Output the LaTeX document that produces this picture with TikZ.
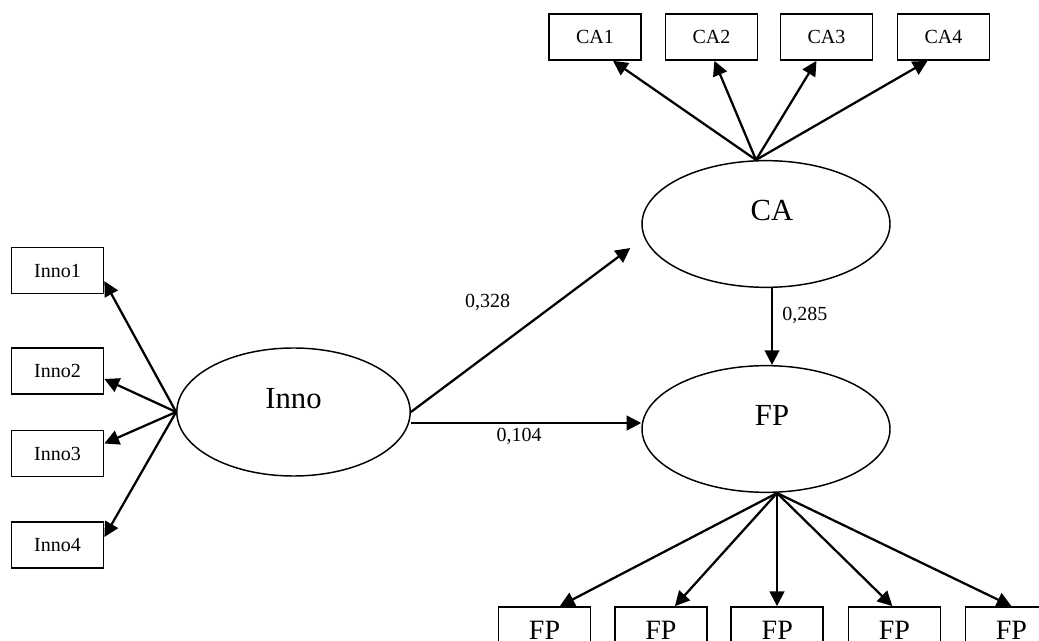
\documentclass[tikz,border=0pt]{standalone}
\usepackage{fontspec}
\setmainfont{Liberation Serif}
\usetikzlibrary{shapes.geometric}
\usetikzlibrary{arrows.meta, positioning}

\begin{document}
\begin{tikzpicture}[
        x=0.75pt, y=-0.75pt,
        itembox/.style={
            rectangle,
            draw=black,
            line width=1.3pt,
            minimum width=69pt,
            minimum height=34.5pt,
            inner sep=0pt,
            font=\fontsize{15}{18}\selectfont
        },
        bigbox/.style={
            itembox,
            font=\fontsize{21}{25}\selectfont
        },
        latent/.style={
            ellipse,
            draw=black,
            line width=1.1pt,
            minimum width=186pt,
            minimum height=95pt,
            text depth=21pt,
            font=\fontsize{23}{27}\selectfont
        },
        arrow/.style={
            -{Triangle[length=11pt,width=11pt]},
            line width=1.7pt,
            draw=black
        },
        coef/.style={
            font=\fontsize{15}{18}\selectfont,
            inner sep=1pt
        }
    ]

    \useasboundingbox (0,0) rectangle (1039,641);
    \clip (0,0) rectangle (1039,641);

    % Latent variables
    \node[latent, minimum width=175pt, minimum height=96pt] (inno) at (293.5,412) {Inno};
    \node[latent] (ca) at (766,224) {\hspace{9pt}CA};
    \node[latent] (fp) at (766,429) {\hspace{9pt}FP};

    % Indicators of Inno
    \node[itembox] (inno1) at (57.5,270.5) {Inno1};
    \node[itembox] (inno2) at (57.5,371) {Inno2};
    \node[itembox] (inno3) at (57.5,453.5) {Inno3};
    \node[itembox] (inno4) at (57.5,545) {Inno4};

    % Indicators of CA
    \node[itembox] (ca1) at (595,37) {CA1};
    \node[itembox, right=17pt of ca1] (ca2) {CA2};
    \node[itembox, right=16pt of ca2] (ca3) {CA3};
    \node[itembox, right=17.5pt of ca3] (ca4) {CA4};

    % Indicators of FP
    \node[bigbox] (fp1) at (544.5,630) {FP};
    \node[bigbox, right=17pt of fp1] (fp2) {FP};
    \node[bigbox, right=17pt of fp2] (fp3) {FP};
    \node[bigbox, right=17.5pt of fp3] (fp4) {FP};
    \node[bigbox, right=17.5pt of fp4] (fp5) {FP};

    % Loadings of Inno
    \draw[arrow] (inno.west) -- ([yshift=-8pt]inno1.east);
    \draw[arrow] (inno.west) -- ([yshift=-6pt]inno2.east);
    \draw[arrow] (inno.west) -- ([yshift=7.5pt]inno3.east);
    \draw[arrow] (inno.west) -- ([yshift=6pt]inno4.east);

    % Loadings of CA
    \draw[arrow] ([xshift=-7.5pt]ca.north) -- ([xshift=13.5pt]ca1.south);
    \draw[arrow] ([xshift=-7.5pt]ca.north) -- ([xshift=2.25pt]ca2.south);
    \draw[arrow] ([xshift=-7.5pt]ca.north) -- ([xshift=-7.5pt]ca3.south);
    \draw[arrow] ([xshift=-7.5pt]ca.north) -- ([xshift=-12pt]ca4.south);

    % Loadings of FP
    \draw[arrow] ([xshift=8.25pt]fp.south) -- ([xshift=11.5pt]fp1.north);
    \draw[arrow] ([xshift=8.25pt]fp.south) -- ([xshift=10.5pt]fp2.north);
    \draw[arrow] ([xshift=8.25pt]fp.south) coordinate (fpout) -- (fpout |- fp3.north);
    \draw[arrow] ([xshift=8.25pt]fp.south) -- ([xshift=-1.5pt]fp4.north);
    \draw[arrow] ([xshift=8.25pt]fp.south) -- (fp5.north);

    % Paths between latent variables
    \draw[arrow] (inno.east) -- node[coef, pos=0.35, yshift=39pt] {0,328} ([xshift=-8.25pt, yshift=-18pt]ca.west);
    \draw[arrow] ([yshift=-8.25pt]inno.east) coordinate (innoout) -- node[coef, below, pos=0.47, yshift=-2pt] {0,104} (innoout -| fp.west);
    \draw[arrow] ([xshift=4.5pt]ca.south) -- node[coef, right, pos=0.36, xshift=6pt] {0,285} ([xshift=4.5pt]fp.north);

\end{tikzpicture}
\end{document}
